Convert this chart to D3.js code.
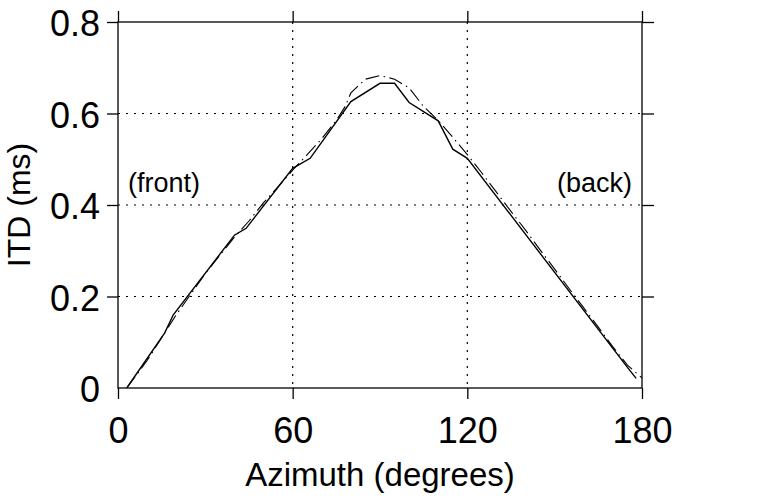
<!DOCTYPE html>
<html>
<head>
<meta charset="utf-8">
<script src="https://cdn.jsdelivr.net/npm/d3@7"></script>
<style>
  body { margin: 0; background: #fff; }
  svg { display: block; font-family: "Liberation Sans", Arial, Helvetica, sans-serif; }
</style>
</head>
<body>
<svg id="chart" width="762" height="498"></svg>
<script>
// measured ITD (solid line)
const measAzimuth = [3, 16, 19, 40, 44, 60, 66, 80, 90, 95, 100, 110, 115, 120, 175, 178];
const measItd = [0, 0.12, 0.16, 0.334, 0.349, 0.48, 0.502, 0.626, 0.666, 0.666, 0.624, 0.584, 0.522, 0.502, 0.045, 0.021];

// model ITD (dash-dot line)
const modelAzimuth = [3, 10, 15, 20, 25, 30, 35, 40, 45, 50, 55, 60, 65, 70, 75, 78, 80, 85, 90, 95,
  100, 105, 110, 115, 120, 125, 130, 135, 140, 145, 150, 155, 160, 165, 170, 175, 180];
const modelItd = [0, 0.06, 0.11, 0.16, 0.205, 0.25, 0.29, 0.33, 0.365, 0.405, 0.44, 0.476, 0.51, 0.545, 0.585, 0.615, 0.645, 0.675, 0.683, 0.675,
  0.656, 0.615, 0.585, 0.548, 0.51, 0.47, 0.428, 0.386, 0.345, 0.302, 0.26, 0.217, 0.175, 0.133, 0.09, 0.05, 0.022];

const xTicks = [0, 60, 120, 180];
const yTicks = [0, 0.2, 0.4, 0.6, 0.8];
const yFrameTicks = [0.2, 0.4, 0.6, 0.8]; // ticks drawn on the frame

const svg = d3.select('#chart');
const plotLeft = 118, plotRight = 642, plotTop = 22, plotBottom = 388;

const x = d3.scaleLinear().domain([0, 180]).range([plotLeft, plotRight]);
const y = d3.scaleLinear().domain([0, 0.8]).range([plotBottom, plotTop]);

// dotted grid
svg.append('g')
  .selectAll('line')
  .data(xTicks.slice(1, -1))
  .join('line')
  .attr('x1', d => x(d)).attr('x2', d => x(d))
  .attr('y1', plotTop).attr('y2', plotBottom)
  .attr('stroke', '#000').attr('stroke-width', 1.2)
  .attr('stroke-dasharray', '2,6');

svg.append('g')
  .selectAll('line')
  .data(yTicks.slice(1, -1))
  .join('line')
  .attr('x1', plotLeft).attr('x2', plotRight)
  .attr('y1', d => y(d)).attr('y2', d => y(d))
  .attr('stroke', '#000').attr('stroke-width', 1.2)
  .attr('stroke-dasharray', '2,6');

// frame
svg.append('rect')
  .attr('x', plotLeft).attr('y', plotTop)
  .attr('width', plotRight - plotLeft).attr('height', plotBottom - plotTop)
  .attr('fill', 'none').attr('stroke', '#000').attr('stroke-width', 1.3);

// axes (outward ticks on all four sides)
function styleAxis(g) {
  g.select('.domain').remove();
  g.selectAll('.tick line').attr('stroke-width', 1.3);
  g.selectAll('text').attr('font-size', 36).attr('fill', '#000');
  g.attr('font-family', null).attr('font-size', null);
}

svg.append('g')
  .attr('transform', `translate(0,${plotBottom})`)
  .call(d3.axisBottom(x).tickValues(xTicks).tickSize(11).tickPadding(18).tickFormat(d3.format('d')))
  .call(styleAxis);

svg.append('g')
  .attr('transform', `translate(0,${plotTop})`)
  .call(d3.axisTop(x).tickValues(xTicks).tickSize(11).tickFormat(''))
  .call(styleAxis);

const yAxisLeft = svg.append('g')
  .attr('transform', `translate(${plotLeft},0)`)
  .call(d3.axisLeft(y).tickValues(yTicks).tickSize(11).tickPadding(7)
    .tickFormat(d => d === 0 ? '0' : d.toFixed(1)))
  .call(styleAxis);
yAxisLeft.selectAll('.tick line').filter(d => d === 0).remove();
yAxisLeft.selectAll('text').attr('dy', '0.38em');

svg.append('g')
  .attr('transform', `translate(${plotRight},0)`)
  .call(d3.axisRight(y).tickValues(yFrameTicks).tickSize(12).tickFormat(''))
  .call(styleAxis);

// series
const line = d3.line().x(d => x(d[0])).y(d => y(d[1]));

svg.append('path')
  .datum(d3.zip(modelAzimuth, modelItd))
  .attr('d', line)
  .attr('fill', 'none').attr('stroke', '#000').attr('stroke-width', 1.1)
  .attr('stroke-dasharray', '14,4.5,1.5,4.5');

svg.append('path')
  .datum(d3.zip(measAzimuth, measItd))
  .attr('d', line)
  .attr('fill', 'none').attr('stroke', '#000').attr('stroke-width', 1.4);

// annotations
svg.append('text')
  .attr('x', 128).attr('y', 192)
  .attr('font-size', 27)
  .text('(front)');

svg.append('text')
  .attr('x', 632).attr('y', 192)
  .attr('text-anchor', 'end')
  .attr('font-size', 27)
  .text('(back)');

// axis titles
svg.append('text')
  .attr('x', (plotLeft + plotRight) / 2).attr('y', 486)
  .attr('text-anchor', 'middle')
  .attr('font-size', 33)
  .text('Azimuth (degrees)');

svg.append('text')
  .attr('transform', `translate(30,${(plotTop + plotBottom) / 2}) rotate(-90)`)
  .attr('text-anchor', 'middle')
  .attr('font-size', 32)
  .text('ITD (ms)');
</script>
</body>
</html>
